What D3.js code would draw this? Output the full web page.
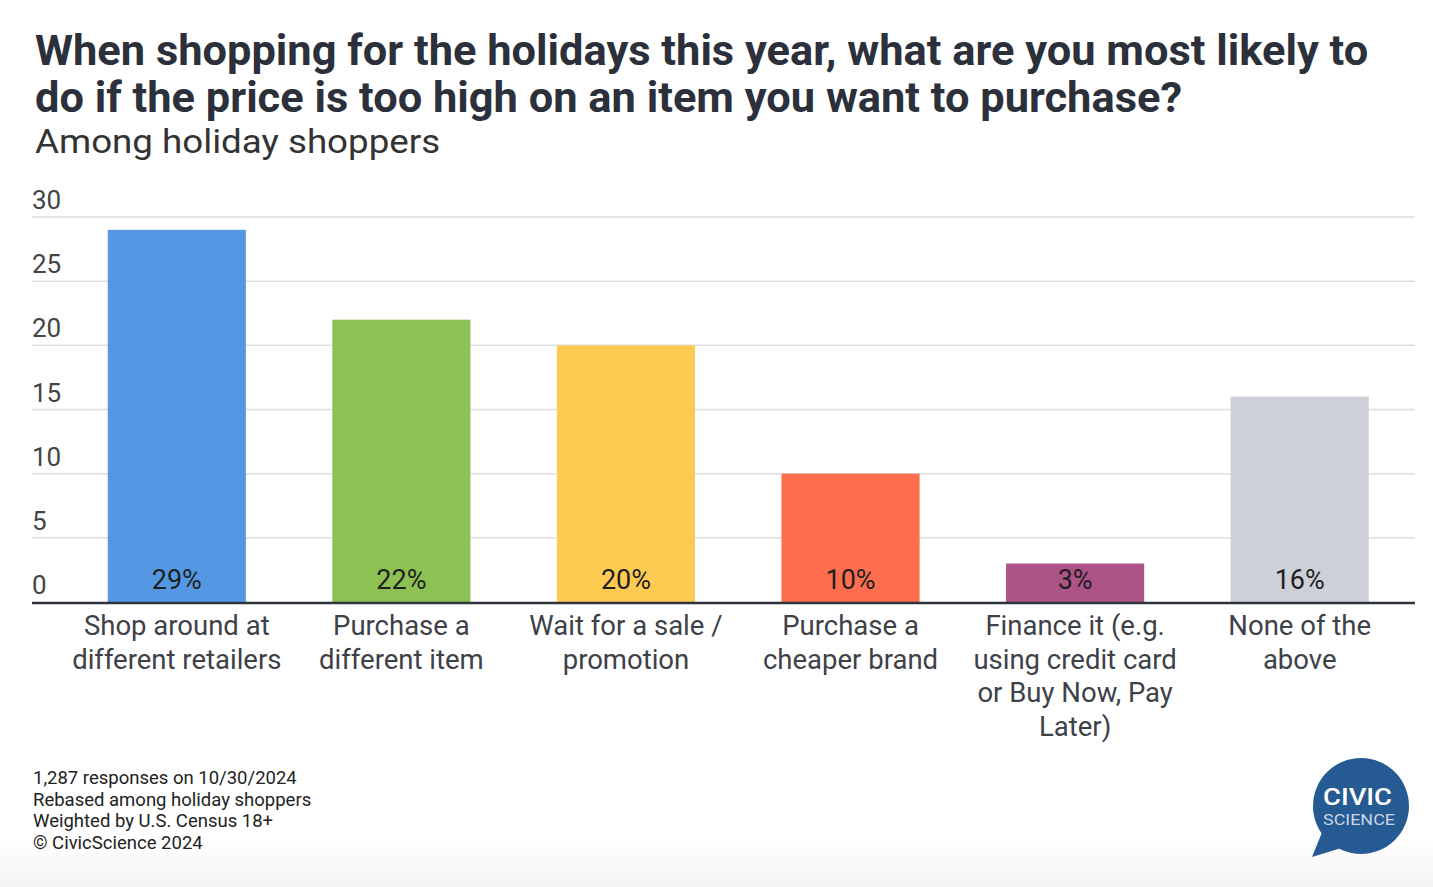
<!DOCTYPE html>
<html>
<head>
<meta charset="utf-8">
<script src="https://cdn.jsdelivr.net/npm/d3@7"></script>
<style>
  html, body { margin: 0; padding: 0; background: #fff; }
  svg { display: block; font-family: Roboto, "Noto Sans", sans-serif; }
</style>
</head>
<body>
<svg id="chart" width="1433" height="887"></svg>
<script>
const categories = [
  "Shop around at\ndifferent retailers",
  "Purchase a\ndifferent item",
  "Wait for a sale /\npromotion",
  "Purchase a\ncheaper brand",
  "Finance it (e.g.\nusing credit card\nor Buy Now, Pay\nLater)",
  "None of the\nabove"
];
const values = [29, 22, 20, 10, 3, 16];
const barColors = ["#5498e3", "#8dc153", "#fecb52", "#fd6e4f", "#ad5387", "#cdd0d9"];
const yTicks = [0, 5, 10, 15, 20, 25, 30];
const titleLines = [
  "When shopping for the holidays this year, what are you most likely to",
  "do if the price is too high on an item you want to purchase?"
];
const subtitle = "Among holiday shoppers";
const footerLines = [
  "1,287 responses on 10/30/2024",
  "Rebased among holiday shoppers",
  "Weighted by U.S. Census 18+",
  "\u00A9 CivicScience 2024"
];

const svg = d3.select("#chart");
const W = 1433, H = 887;

// bottom faint gradient
const defs = svg.append("defs");
const grad = defs.append("linearGradient").attr("id", "bg").attr("x1", 0).attr("y1", 0).attr("x2", 0).attr("y2", 1);
grad.append("stop").attr("offset", "0%").attr("stop-color", "#ffffff");
grad.append("stop").attr("offset", "100%").attr("stop-color", "#f3f3f3");
svg.append("rect").attr("x", 0).attr("y", 0).attr("width", W).attr("height", H).attr("fill", "#fff");
svg.append("rect").attr("x", 0).attr("y", 840).attr("width", W).attr("height", 47).attr("fill", "url(#bg)");

// Title
svg.append("g").attr("transform", "translate(35,0) scale(1.01,1)")
  .selectAll("text").data(titleLines).join("text")
  .attr("x", 0).attr("y", (d, i) => 65 + i * 47)
  .attr("font-size", 43).attr("font-weight", 700).attr("fill", "#2b303b")
  .text(d => d);
svg.append("g").attr("transform", "translate(35,0) scale(1.08,1)")
  .append("text").attr("x", 0).attr("y", 153)
  .attr("font-size", 34).attr("font-weight", 400).attr("fill", "#333")
  .text(subtitle);

// Scales
const plotLeft = 32, plotRight = 1415;
const y = d3.scaleLinear().domain([0, 30]).range([602, 217]);
const x = d3.scaleBand().domain(categories).range([64.5, 1412]).paddingInner(0.385).paddingOuter(0.1925);

// gridlines + tick labels
const yAxis = svg.append("g");
yAxis.selectAll("line").data(yTicks.filter(t => t > 0)).join("line")
  .attr("x1", plotLeft).attr("x2", plotRight)
  .attr("y1", d => y(d)).attr("y2", d => y(d))
  .attr("stroke", "#dedede").attr("stroke-width", 1.5);
yAxis.selectAll("text").data(yTicks).join("text")
  .attr("x", 32).attr("y", d => y(d) - 8)
  .attr("font-size", 26).attr("fill", "#444")
  .text(d => d);

// bars
svg.append("g").selectAll("rect").data(values).join("rect")
  .attr("x", (d, i) => x(categories[i]))
  .attr("y", d => y(d))
  .attr("width", x.bandwidth())
  .attr("height", d => y(0) - y(d))
  .attr("fill", (d, i) => barColors[i]);

// value labels
svg.append("g").selectAll("text").data(values).join("text")
  .attr("x", (d, i) => x(categories[i]) + x.bandwidth() / 2)
  .attr("y", y(0) - 13)
  .attr("text-anchor", "middle")
  .attr("font-size", 27).attr("fill", "#1f1f1f")
  .text(d => d + "%");

// baseline axis
svg.append("line").attr("x1", plotLeft).attr("x2", plotRight)
  .attr("y1", y(0) + 1).attr("y2", y(0) + 1)
  .attr("stroke", "#2f333b").attr("stroke-width", 2.5);

// category labels
const catG = svg.append("g");
categories.forEach(c => {
  const t = catG.append("text")
    .attr("x", x(c) + x.bandwidth() / 2)
    .attr("text-anchor", "middle")
    .attr("font-size", 27.5).attr("fill", "#3d4148");
  c.split("\n").forEach((ln, j) => {
    t.append("tspan").attr("x", x(c) + x.bandwidth() / 2).attr("y", 635 + j * 33.5).text(ln);
  });
});

// footer
svg.append("g").selectAll("text").data(footerLines).join("text")
  .attr("x", 33).attr("y", (d, i) => 784 + i * 21.5)
  .attr("font-size", 18.5).attr("fill", "#222")
  .text(d => d);

// logo
const logo = svg.append("g");
logo.append("path")
  .attr("d", "M1323,830 L1312,857 L1348,846 Z")
  .attr("fill", "#255b92");
logo.append("circle").attr("cx", 1361).attr("cy", 806).attr("r", 48).attr("fill", "#255b92");
logo.append("text").attr("x", 1323).attr("y", 805)
  .attr("textLength", 69).attr("lengthAdjust", "spacingAndGlyphs")
  .attr("font-size", 23).attr("font-weight", 500).attr("fill", "#fff").text("CIVIC");
logo.append("text").attr("x", 1323).attr("y", 825)
  .attr("textLength", 72).attr("lengthAdjust", "spacingAndGlyphs")
  .attr("font-size", 15).attr("font-weight", 400).attr("fill", "#c9d6e6").text("SCIENCE");
</script>
</body>
</html>
